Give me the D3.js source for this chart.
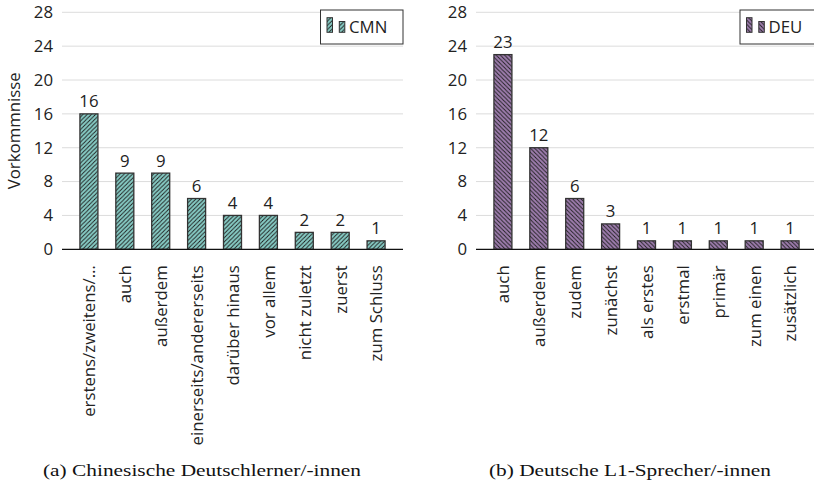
<!DOCTYPE html>
<html>
<head>
<meta charset="utf-8">
<script src="https://cdn.jsdelivr.net/npm/d3@7"></script>
<style>
  html, body { margin: 0; padding: 0; background: #fff; }
  svg { display: block; }
  text { font-family: "Open Sans", Lato, sans-serif; fill: #222; }
  .caption { font-family: "Liberation Serif", "DejaVu Serif", serif; fill: #111; }
</style>
</head>
<body>
<svg id="chart" width="814" height="482"></svg>
<script>
// Connector frequencies per group
const cmnCategories = ["erstens/zweitens/…", "auch", "außerdem", "einerseits/andererseits",
  "darüber hinaus", "vor allem", "nicht zuletzt", "zuerst", "zum Schluss"];
const cmnValues = [16, 9, 9, 6, 4, 4, 2, 2, 1];

const deuCategories = ["auch", "außerdem", "zudem", "zunächst", "als erstes",
  "erstmal", "primär", "zum einen", "zusätzlich"];
const deuValues = [23, 12, 6, 3, 1, 1, 1, 1, 1];

const yTicks = [0, 4, 8, 12, 16, 20, 24, 28];
const yLabel = "Vorkommnisse";
const seriesNames = ["CMN", "DEU"];
const captions = ["(a) Chinesische Deutschlerner/-innen", "(b) Deutsche L1-Sprecher/-innen"];

const FONT = 16.8;
const svg = d3.select("#chart");
const defs = svg.append("defs");

// diagonal hatch patterns: "/" for the teal series, "\" for the purple series
function hatch(id, fill, dir) {
  const s = 4.2;
  const p = defs.append("pattern")
    .attr("id", id).attr("patternUnits", "userSpaceOnUse")
    .attr("width", s).attr("height", s);
  p.append("rect").attr("width", s).attr("height", s).attr("fill", fill);
  const d = dir > 0
    ? `M0,${s} L${s},0 M${-s/2},${s/2} L${s/2},${-s/2} M${s/2},${s*1.5} L${s*1.5},${s/2}`
    : `M0,0 L${s},${s} M${-s/2},${s/2} L${s/2},${s*1.5} M${s/2},${-s/2} L${s*1.5},${s/2}`;
  p.append("path").attr("d", d).attr("stroke", "#1e1e1e").attr("stroke-width", 0.9);
}
hatch("hatchCMN", "#86cbc4", 1);
hatch("hatchDEU", "#9d7cad", -1);

const y = d3.scaleLinear().domain([0, 28]).range([249.3, 12.3]);

function panel(opts) {
  const { x0, x1, cats, vals, pat, name, legendX, caption, captionX, captionW, showYLabel } = opts;
  const g = svg.append("g");
  const x = d3.scalePoint().domain(cats).range([x0, x1]).padding(0.75);
  const bw = 18;

  // grid
  g.append("g").selectAll("line").data(yTicks.filter(t => t > 0)).join("line")
    .attr("x1", x0).attr("x2", x1)
    .attr("y1", d => y(d)).attr("y2", d => y(d))
    .attr("stroke", "#dcdcdc").attr("stroke-width", 1);

  // y axis labels
  const yAxis = d3.axisLeft(y).tickValues(yTicks).tickSize(0).tickPadding(9);
  const ya = g.append("g").attr("transform", `translate(${x0},0)`).call(yAxis);
  ya.select(".domain").remove();
  ya.selectAll("text").attr("font-size", FONT).attr("font-family", "Open Sans").attr("fill", "#222");

  // bars
  g.append("g").selectAll("rect").data(vals).join("rect")
    .attr("x", (d, i) => x(cats[i]) - bw / 2)
    .attr("y", d => y(d))
    .attr("width", bw)
    .attr("height", d => y(0) - y(d))
    .attr("fill", `url(#${pat})`)
    .attr("stroke", "#333").attr("stroke-width", 1.3);

  // value labels
  g.append("g").selectAll("text").data(vals).join("text")
    .attr("x", (d, i) => x(cats[i]))
    .attr("y", d => y(d) - 6.5)
    .attr("text-anchor", "middle")
    .attr("font-size", FONT)
    .text(d => d);

  // baseline
  g.append("line").attr("x1", x0).attr("x2", x1)
    .attr("y1", y(0)).attr("y2", y(0))
    .attr("stroke", "#111").attr("stroke-width", 1.3);

  // category labels (rotated)
  const xAxis = d3.axisBottom(x).tickSize(0).tickPadding(0);
  const xa = g.append("g").attr("transform", `translate(0,${y(0)})`).call(xAxis);
  xa.select(".domain").remove();
  xa.selectAll("text")
    .attr("font-size", FONT).attr("font-family", "Open Sans").attr("fill", "#222")
    .attr("transform", "rotate(-90)")
    .attr("text-anchor", "end")
    .attr("x", -16).attr("y", 0).attr("dy", "0.35em");

  // legend
  const lg = g.append("g");
  lg.append("rect").attr("x", legendX).attr("y", 10).attr("width", x1 - legendX).attr("height", 34)
    .attr("fill", "#fff").attr("stroke", "#333").attr("stroke-width", 1);
  lg.append("rect").attr("x", legendX + 6.5).attr("y", 17.7).attr("width", 5.5).attr("height", 14.6)
    .attr("fill", `url(#${pat})`).attr("stroke", "#333").attr("stroke-width", 1);
  lg.append("rect").attr("x", legendX + 18.8).attr("y", 21.5).attr("width", 5.5).attr("height", 10.8)
    .attr("fill", `url(#${pat})`).attr("stroke", "#333").attr("stroke-width", 1);
  lg.append("text").attr("x", legendX + 28.5).attr("y", 33).attr("font-size", FONT).text(name);

  if (showYLabel) {
    g.append("text")
      .attr("transform", `translate(20,${(y(0) + y(28)) / 2}) rotate(-90)`)
      .attr("text-anchor", "middle")
      .attr("font-size", FONT)
      .text(yLabel);
  }

  // caption
  g.append("text").attr("class", "caption")
    .attr("x", captionX).attr("y", 475.5)
    .attr("text-anchor", "middle")
    .attr("font-size", 17.5)
    .attr("textLength", captionW)
    .attr("lengthAdjust", "spacingAndGlyphs")
    .text(caption);
}

panel({ x0: 62, x1: 403, cats: cmnCategories, vals: cmnValues, pat: "hatchCMN",
  name: seriesNames[0], legendX: 320.5, caption: captions[0], captionX: 202, captionW: 318,
  showYLabel: true });
panel({ x0: 476, x1: 817, cats: deuCategories, vals: deuValues, pat: "hatchDEU",
  name: seriesNames[1], legendX: 740, caption: captions[1], captionX: 630, captionW: 282,
  showYLabel: false });
</script>
</body>
</html>
